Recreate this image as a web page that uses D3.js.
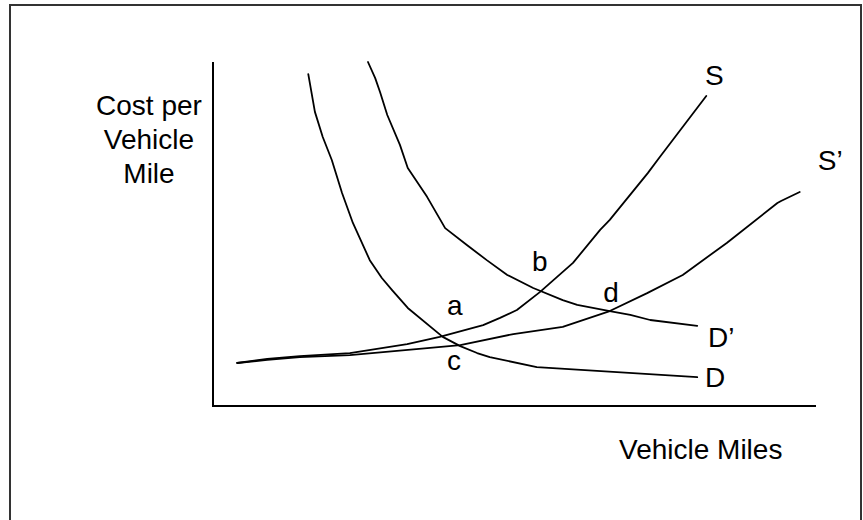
<!DOCTYPE html>
<html>
<head>
<meta charset="utf-8">
<script src="https://cdn.jsdelivr.net/npm/d3@7"></script>
<style>
  html, body { margin: 0; padding: 0; background: #fff; }
  svg { display: block; }
  text { font-family: "Liberation Sans", Arial, sans-serif; fill: #000; }
</style>
</head>
<body>
<svg id="chart" width="863" height="520"></svg>
<script>
// Curve data (arbitrary units: x = vehicle miles 0-100, y = cost 0-100)
const demandD = [
  [15.8, 96.5], [16.9, 85.5], [18.2, 78.2], [19.7, 71.5], [21.4, 61.9],
  [23.2, 53.2], [26.0, 42.4], [28.0, 37.2], [29.7, 33.7], [32.3, 28.5],
  [38.1, 20.1], [41.0, 17.4], [43.8, 15.4], [45.9, 14.2], [53.7, 11.3], [80.3, 8.4]
];
const demandD2 = [
  [25.7, 100], [26.9, 95.3], [27.7, 91.3], [28.9, 84.6], [31.0, 75.9],
  [32.3, 69.2], [35.5, 60.8], [38.5, 51.7], [42.1, 46.8], [45.4, 42.4],
  [48.8, 38.1], [53.1, 34.3], [58.0, 30.8], [60.4, 29.4], [65.8, 27.6],
  [69.2, 26.5], [72.5, 25.0], [80.3, 23.3]
];
const supplyS = [
  [4.0, 12.5], [9.0, 13.7], [14.4, 14.5], [22.7, 15.4], [32.2, 18.0],
  [37.6, 20.1], [44.8, 23.5], [47.6, 25.6], [50.4, 27.9], [54.2, 33.1],
  [59.7, 41.6], [64.2, 51.2], [65.8, 54.1], [72.1, 67.7], [74.1, 72.4], [81.8, 90.1]
];
const supplyS2 = [
  [4.0, 12.5], [9.0, 13.4], [14.4, 14.2], [22.7, 14.8], [36.0, 16.9],
  [41.0, 17.7], [49.8, 20.9], [58.0, 23.0], [65.8, 27.6], [72.0, 32.8],
  [77.9, 38.1], [85.2, 47.4], [93.6, 59.0], [94.2, 59.6], [97.3, 62.2]
];
const curves = [demandD, demandD2, supplyS, supplyS2];

// Labels: [text, x, y] in data units (text start, baseline)
const curveLabels = [
  ["S", 81.6, 93.3], ["S\u2019", 100.3, 68.6],
  ["D\u2019", 82.1, 17.2], ["D", 81.6, 5.5]
];
const pointLabels = [
  ["a", 38.8, 26.5], ["b", 52.9, 39.2], ["c", 38.8, 10.5], ["d", 64.7, 30.2]
];
const yTitle = ["Cost per", "Vehicle", "Mile"];
const xTitle = "Vehicle Miles";

const svg = d3.select("#chart");
const x = d3.scaleLinear().domain([0, 100]).range([213, 816]);
const y = d3.scaleLinear().domain([0, 100]).range([406, 62]);

// outer frame
svg.append("rect")
  .attr("x", 10).attr("y", 5).attr("width", 851).attr("height", 540)
  .attr("fill", "none").attr("stroke", "#333").attr("stroke-width", 2);

// axes
const g = svg.append("g");
g.append("line")
  .attr("x1", x(0)).attr("x2", x(0)).attr("y1", y(100)).attr("y2", y(0) + 1)
  .attr("stroke", "#000").attr("stroke-width", 2);
g.append("line")
  .attr("x1", x(0) - 1).attr("x2", x(100)).attr("y1", y(0)).attr("y2", y(0))
  .attr("stroke", "#000").attr("stroke-width", 2);

// curves
const line = d3.line().x(d => x(d[0])).y(d => y(d[1])).curve(d3.curveLinear);
g.selectAll("path.curve").data(curves).join("path")
  .attr("class", "curve")
  .attr("d", line)
  .attr("fill", "none").attr("stroke", "#000").attr("stroke-width", 1.8)
  .attr("stroke-linejoin", "round").attr("stroke-linecap", "round");

// labels
g.selectAll("text.lbl").data(curveLabels.concat(pointLabels)).join("text")
  .attr("class", "lbl")
  .attr("x", d => x(d[1])).attr("y", d => y(d[2]))
  .attr("font-size", 28)
  .text(d => d[0]);

// axis titles
svg.append("text")
  .attr("text-anchor", "middle").attr("font-size", 28)
  .selectAll("tspan").data(yTitle).join("tspan")
  .attr("x", 149).attr("y", (d, i) => 115 + i * 34)
  .text(d => d);

svg.append("text")
  .attr("x", 619).attr("y", 459).attr("font-size", 28)
  .text(xTitle);
</script>
</body>
</html>
